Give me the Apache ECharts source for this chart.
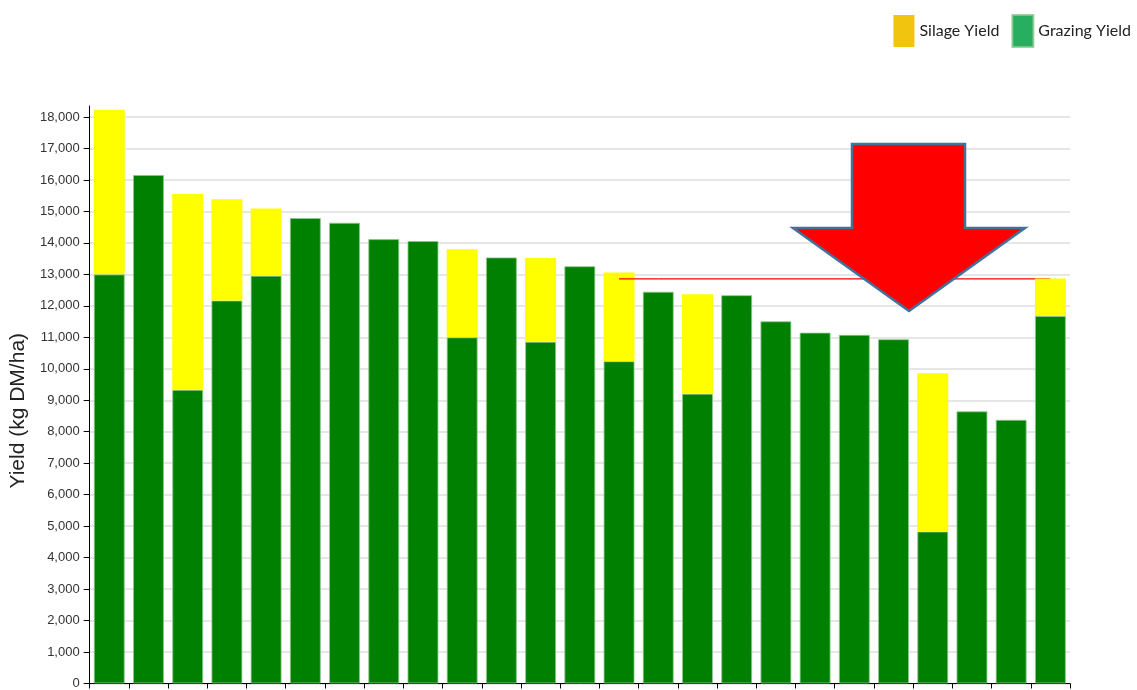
<!DOCTYPE html>
<html>
<head>
<meta charset="utf-8">
<script src="https://cdn.jsdelivr.net/npm/echarts@6/dist/echarts.min.js"></script>
<style>
  html, body { margin: 0; padding: 0; background: #fff; }
  #chart { width: 1137px; height: 690px; }
</style>
</head>
<body>
<div id="chart"></div>
<script>
// one bar per farm, no x labels in the original
const farms = ['1', '2', '3', '4', '5', '6', '7', '8', '9', '10', '11', '12', '13',
  '14', '15', '16', '17', '18', '19', '20', '21', '22', '23', '24', '25'];
const grazingYield = [13000, 16160, 9330, 12170, 12960, 14790, 14640, 14120, 14060, 11000,
  13540, 10860, 13260, 10240, 12450, 9210, 12340, 11510, 11150, 11080, 10940, 4830, 8650, 8380, 11680];
const silageYield = [5230, 0, 6220, 3220, 2130, 0, 0, 0, 0, 2800,
  0, 2660, 0, 2820, 0, 3160, 0, 0, 0, 0, 0, 5030, 0, 0, 1190];
const yTicks = [0, 1000, 2000, 3000, 4000, 5000, 6000, 7000, 8000, 9000, 10000,
  11000, 12000, 13000, 14000, 15000, 16000, 17000, 18000];
// red reference line (farm 14 .. farm 25)
const refLevel = 12860;
const refFrom = 13;
const refTo = 24;

// drawn over farm 14, but under the other bars it crosses
const refLineTop = farms.map((f, i) => (i >= refFrom && i <= refFrom + 1 ? refLevel : null));
const refLineBack = farms.map((f, i) => (i > refFrom && i <= refTo ? refLevel : null));

const myChart = echarts.init(document.getElementById('chart'));

myChart.setOption({
  animation: false,
  legend: {
    right: 1,
    top: 9,
    itemWidth: 21,
    itemHeight: 32,
    itemGap: 12,
    icon: 'rect',
    textStyle: { fontFamily: 'Lato', fontSize: 16, color: '#222' },
    data: [
      { name: 'Silage Yield', itemStyle: { color: '#F1C40F' } },
      { name: 'Grazing Yield', itemStyle: { color: '#27AE60' } }
    ],
    selectedMode: false
  },
  grid: { left: 87, right: 67, top: 106, bottom: 2 },
  xAxis: {
    type: 'category',
    data: farms,
    axisLine: { lineStyle: { color: '#000', width: 1 } },
    axisTick: { show: true, length: 5, lineStyle: { color: '#000' } },
    axisLabel: { show: false }
  },
  yAxis: {
    type: 'value',
    min: yTicks[0],
    max: 18350,
    interval: 1000,
    name: 'Yield (kg DM/ha)',
    nameLocation: 'middle',
    nameGap: 55,
    nameTextStyle: { fontFamily: 'Liberation Sans', fontSize: 21, color: '#222', padding: [0, 32, 0, 0] },
    axisLine: { show: true, lineStyle: { color: '#000', width: 1 } },
    axisTick: { show: true, length: 6, lineStyle: { color: '#000' } },
    axisLabel: {
      showMaxLabel: false,
      fontFamily: 'Liberation Sans',
      fontSize: 13,
      color: '#333',
      margin: 10,
      formatter: v => v.toLocaleString('en-US')
    },
    splitLine: { showMaxLine: false, lineStyle: { color: '#dedede', width: 1.5 } }
  },
  series: [
    {
      name: 'Grazing Yield',
      type: 'bar',
      stack: 'yield',
      barWidth: '79%',
      z: 3,
      data: grazingYield,
      itemStyle: { color: '#008000', borderColor: 'rgba(140,200,140,0.8)', borderWidth: 1 }
    },
    {
      name: 'Silage Yield',
      type: 'bar',
      stack: 'yield',
      z: 3,
      data: silageYield,
      itemStyle: { color: '#FFFF00', borderWidth: 0 }
    },
    {
      name: 'ref',
      type: 'line',
      data: refLineBack,
      symbol: 'none',
      z: 1,
      lineStyle: { color: '#FF0000', width: 1.2 }
    },
    {
      name: 'ref',
      type: 'line',
      data: refLineTop,
      symbol: 'none',
      z: 5,
      lineStyle: { color: '#FF0000', width: 1.2 }
    }
  ],
  graphic: [
    {
      type: 'polygon',
      z: 10,
      shape: {
        points: [[852, 144], [965, 144], [965, 228], [1025, 228], [909, 311], [793, 228], [852, 228]]
      },
      style: { fill: '#FF0000', stroke: '#41719C', lineWidth: 2.5 }
    }
  ]
});
</script>
</body>
</html>
